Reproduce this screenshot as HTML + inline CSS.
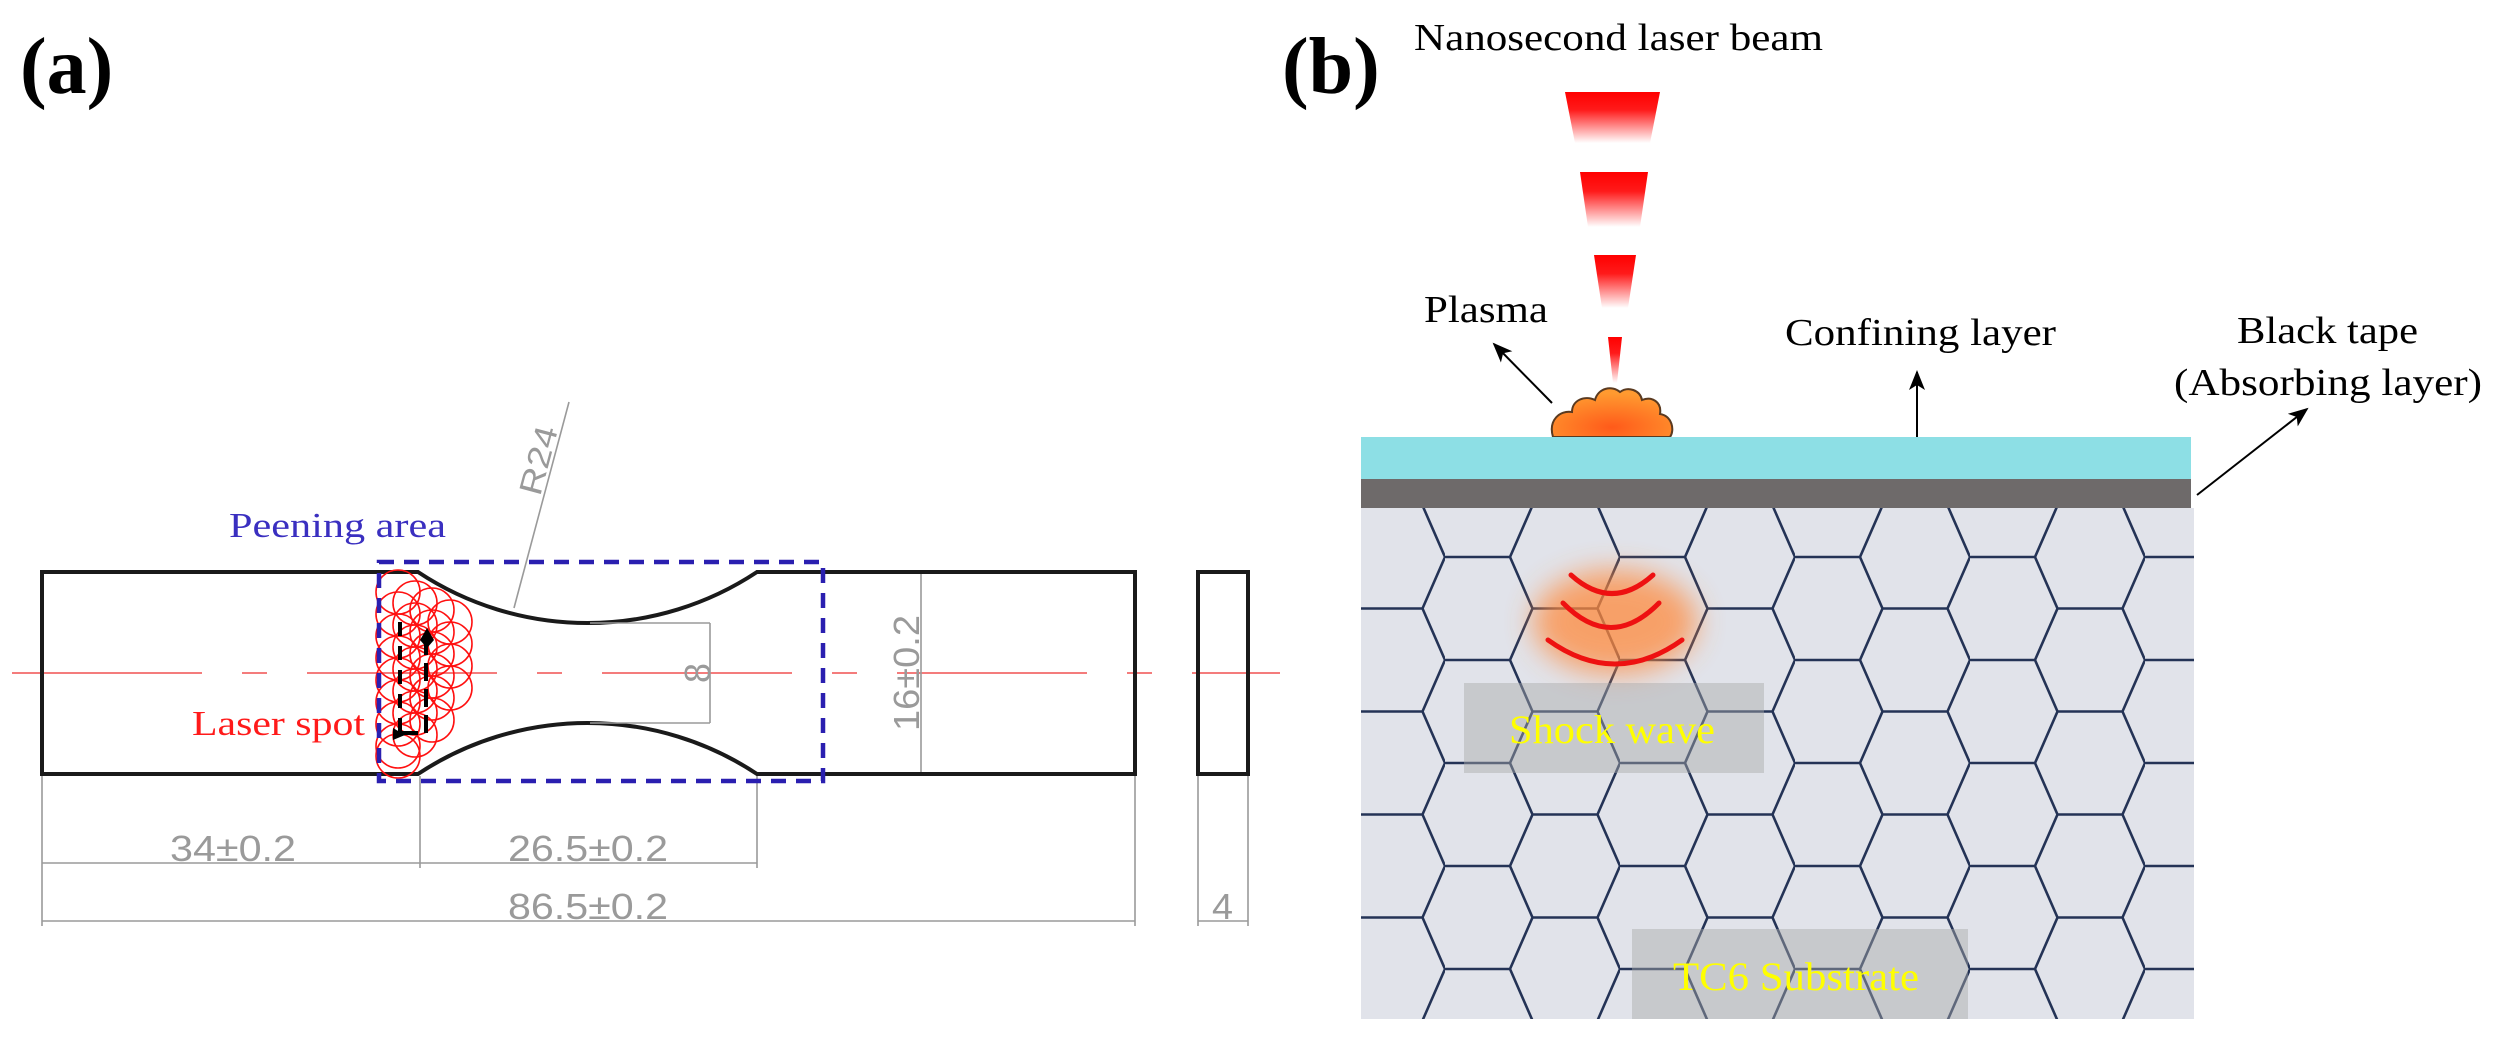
<!DOCTYPE html>
<html><head><meta charset="utf-8"><style>
html,body{margin:0;padding:0;background:#fff;}
svg{display:block;}
.ser{font-family:"Liberation Serif",serif;}
.dim{font-family:"Liberation Sans",sans-serif;fill:#9a9a9a;}
</style></head><body>
<svg width="2497" height="1044" viewBox="0 0 2497 1044" xmlns="http://www.w3.org/2000/svg">
<defs>
<linearGradient id="beam" x1="0" y1="0" x2="0" y2="1">
<stop offset="0" stop-color="#ff0000"/><stop offset="0.35" stop-color="#ff1a1a"/><stop offset="1" stop-color="#ffffff"/>
</linearGradient>
<radialGradient id="plasma" cx="0.5" cy="0.8" r="0.7">
<stop offset="0" stop-color="#ff5a1a"/><stop offset="1" stop-color="#ff9a30"/>
</radialGradient>
<filter id="blur" x="-50%" y="-50%" width="200%" height="200%"><feGaussianBlur stdDeviation="14"/></filter>
<pattern id="hex" patternUnits="userSpaceOnUse" width="175" height="103" patternTransform="translate(1445,557)">
<path d="M0,0 H65 L87.5,51.5 L65,103 H0 M87.5,51.5 H152.5 L175,0 M152.5,51.5 L175,103" fill="none" stroke="#243356" stroke-width="2.6"/>
</pattern>
<marker id="ahb" markerWidth="20" markerHeight="16" refX="18" refY="8" orient="auto" markerUnits="userSpaceOnUse">
<path d="M0,0 L20,8 L0,16 L5,8 z" fill="#000"/>
</marker>
<clipPath id="sub"><rect x="1361" y="508" width="833" height="511"/></clipPath>
</defs>

<!-- (a) -->
<text x="20" y="93" class="ser" font-size="80" font-weight="bold">(a)</text>

<line x1="12" y1="673" x2="1280" y2="673" stroke="#f47c7c" stroke-width="2" stroke-dasharray="190,40,25,40"/>

<path d="M42,572 H418 A307,307 0 0 0 757,572 H1135 V774 H757 A307,307 0 0 0 418,774 H42 Z" fill="none" stroke="#1a1a1a" stroke-width="4"/>
<rect x="1198" y="572" width="50" height="202" fill="none" stroke="#1a1a1a" stroke-width="4"/>

<g stroke="#9a9a9a" stroke-width="1.6" fill="none">
<line x1="42" y1="776" x2="42" y2="926"/>
<line x1="420" y1="776" x2="420" y2="868"/>
<line x1="757" y1="776" x2="757" y2="868"/>
<line x1="1135" y1="776" x2="1135" y2="926"/>
<line x1="1198" y1="776" x2="1198" y2="926"/>
<line x1="1248" y1="776" x2="1248" y2="926"/>
<line x1="42" y1="863" x2="757" y2="863"/>
<line x1="42" y1="921" x2="1135" y2="921"/>
<line x1="1198" y1="921" x2="1248" y2="921"/>
<line x1="921" y1="574" x2="921" y2="772"/>
<line x1="590" y1="623" x2="710" y2="623"/>
<line x1="590" y1="723" x2="710" y2="723"/>
<line x1="710" y1="623" x2="710" y2="723"/>
<line x1="569" y1="402" x2="514" y2="608"/>
</g>
<text x="170" y="861" class="dim" font-size="36" textLength="126" lengthAdjust="spacingAndGlyphs">34±0.2</text>
<text x="508" y="861" class="dim" font-size="36" textLength="160" lengthAdjust="spacingAndGlyphs">26.5±0.2</text>
<text x="508" y="919" class="dim" font-size="36" textLength="160" lengthAdjust="spacingAndGlyphs">86.5±0.2</text>
<text x="1212" y="919" class="dim" font-size="36" textLength="21" lengthAdjust="spacingAndGlyphs">4</text>
<text transform="translate(919,731) rotate(-90)" class="dim" font-size="36" textLength="116" lengthAdjust="spacingAndGlyphs">16±0.2</text>
<text transform="translate(710,683) rotate(-90)" class="dim" font-size="36" textLength="20" lengthAdjust="spacingAndGlyphs">8</text>
<text transform="translate(540,497) rotate(-75)" class="dim" font-size="32" textLength="70" lengthAdjust="spacingAndGlyphs">R24</text>

<g fill="none" stroke="#ff1010" stroke-width="1.6">
<circle cx="398" cy="592" r="22"/><circle cx="398" cy="614" r="22"/><circle cx="398" cy="636" r="22"/><circle cx="398" cy="658" r="22"/><circle cx="398" cy="680" r="22"/><circle cx="398" cy="702" r="22"/><circle cx="398" cy="724" r="22"/><circle cx="398" cy="746" r="22"/><circle cx="398" cy="756" r="22"/>
<circle cx="415" cy="603" r="22"/><circle cx="415" cy="625" r="22"/><circle cx="415" cy="647" r="22"/><circle cx="415" cy="669" r="22"/><circle cx="415" cy="691" r="22"/><circle cx="415" cy="713" r="22"/><circle cx="415" cy="735" r="22"/>
<circle cx="432" cy="610" r="22"/><circle cx="432" cy="632" r="22"/><circle cx="432" cy="654" r="22"/><circle cx="432" cy="676" r="22"/><circle cx="432" cy="698" r="22"/><circle cx="432" cy="720" r="22"/>
<circle cx="450" cy="622" r="22"/><circle cx="450" cy="644" r="22"/><circle cx="450" cy="666" r="22"/><circle cx="450" cy="688" r="22"/>
</g>
<g stroke="#000" stroke-width="4" fill="none">
<path d="M400,622 V732" stroke-dasharray="14,10"/>
<path d="M400,733 H426 V640" stroke-dasharray="18,8"/>
</g>
<path d="M420,640 L427,628 L434,640 L427,648 Z" fill="#000"/>
<path d="M393,728 L405,735 L393,740 Z" fill="#000"/>

<rect x="379" y="562" width="444" height="219" fill="none" stroke="#2a1fb0" stroke-width="4.5" stroke-dasharray="15,10"/>
<text x="229" y="537" class="ser" font-size="35" fill="#3a2fc0" textLength="217" lengthAdjust="spacingAndGlyphs">Peening area</text>
<text x="192" y="735" class="ser" font-size="35" fill="#ff1a1a" textLength="173" lengthAdjust="spacingAndGlyphs">Laser spot</text>

<!-- (b) -->
<text x="1282" y="93" class="ser" font-size="80" font-weight="bold">(b)</text>
<text x="1414" y="50" class="ser" font-size="38" textLength="409" lengthAdjust="spacingAndGlyphs">Nanosecond laser beam</text>

<polygon points="1565,92 1660,92 1650,143 1575,143" fill="url(#beam)"/>
<polygon points="1580,172 1648,172 1640,227 1588,227" fill="url(#beam)"/>
<polygon points="1594,255 1636,255 1628,308 1602,308" fill="url(#beam)"/>
<polygon points="1608,337 1622,337 1617,383 1613,383" fill="url(#beam)"/>

<path d="M1553,437 C1548,420 1560,410 1572,412 C1572,400 1585,395 1595,400 C1598,388 1612,385 1620,392 C1628,386 1640,390 1642,400 C1652,396 1662,402 1660,414 C1672,416 1675,430 1670,437 Z" fill="url(#plasma)" stroke="#5a3a20" stroke-width="2"/>

<rect x="1361" y="437" width="830" height="42" fill="#8ddfe5"/>
<rect x="1361" y="479" width="830" height="29" fill="#6e6a6a"/>
<rect x="1361" y="508" width="833" height="511" fill="#e1e3ea"/>
<rect x="1361" y="508" width="833" height="511" fill="url(#hex)" clip-path="url(#sub)"/>

<ellipse cx="1615" cy="622" rx="82" ry="52" fill="#ff8a3c" opacity="0.75" filter="url(#blur)"/>
<g fill="none" stroke="#ee1111" stroke-width="5" stroke-linecap="round">
<path d="M1571,575 Q1612,612 1653,575"/>
<path d="M1563,603 Q1611,652 1659,603"/>
<path d="M1548,640 Q1615,688 1682,640"/>
</g>
<rect x="1464" y="683" width="300" height="90" fill="#a8a8a8" opacity="0.45"/>
<text x="1612" y="743" text-anchor="middle" class="ser" font-size="40" fill="#ffff00" textLength="206" lengthAdjust="spacingAndGlyphs">Shock wave</text>
<rect x="1632" y="929" width="336" height="90" fill="#a8a8a8" opacity="0.45"/>
<text x="1796" y="990" text-anchor="middle" class="ser" font-size="40" fill="#ffff00" textLength="246" lengthAdjust="spacingAndGlyphs">TC6 Substrate</text>

<text x="1424" y="322" class="ser" font-size="38" textLength="124" lengthAdjust="spacingAndGlyphs">Plasma</text>
<line x1="1552" y1="403" x2="1494" y2="344" stroke="#000" stroke-width="2" marker-end="url(#ahb)"/>
<text x="1785" y="345" class="ser" font-size="38" textLength="271" lengthAdjust="spacingAndGlyphs">Confining layer</text>
<line x1="1917" y1="437" x2="1917" y2="372" stroke="#000" stroke-width="2" marker-end="url(#ahb)"/>
<text x="2237" y="343" class="ser" font-size="38" textLength="181" lengthAdjust="spacingAndGlyphs">Black tape</text>
<text x="2174" y="395" class="ser" font-size="38" textLength="308" lengthAdjust="spacingAndGlyphs">(Absorbing layer)</text>
<line x1="2197" y1="495" x2="2307" y2="409" stroke="#000" stroke-width="2" marker-end="url(#ahb)"/>
</svg>
</body></html>
